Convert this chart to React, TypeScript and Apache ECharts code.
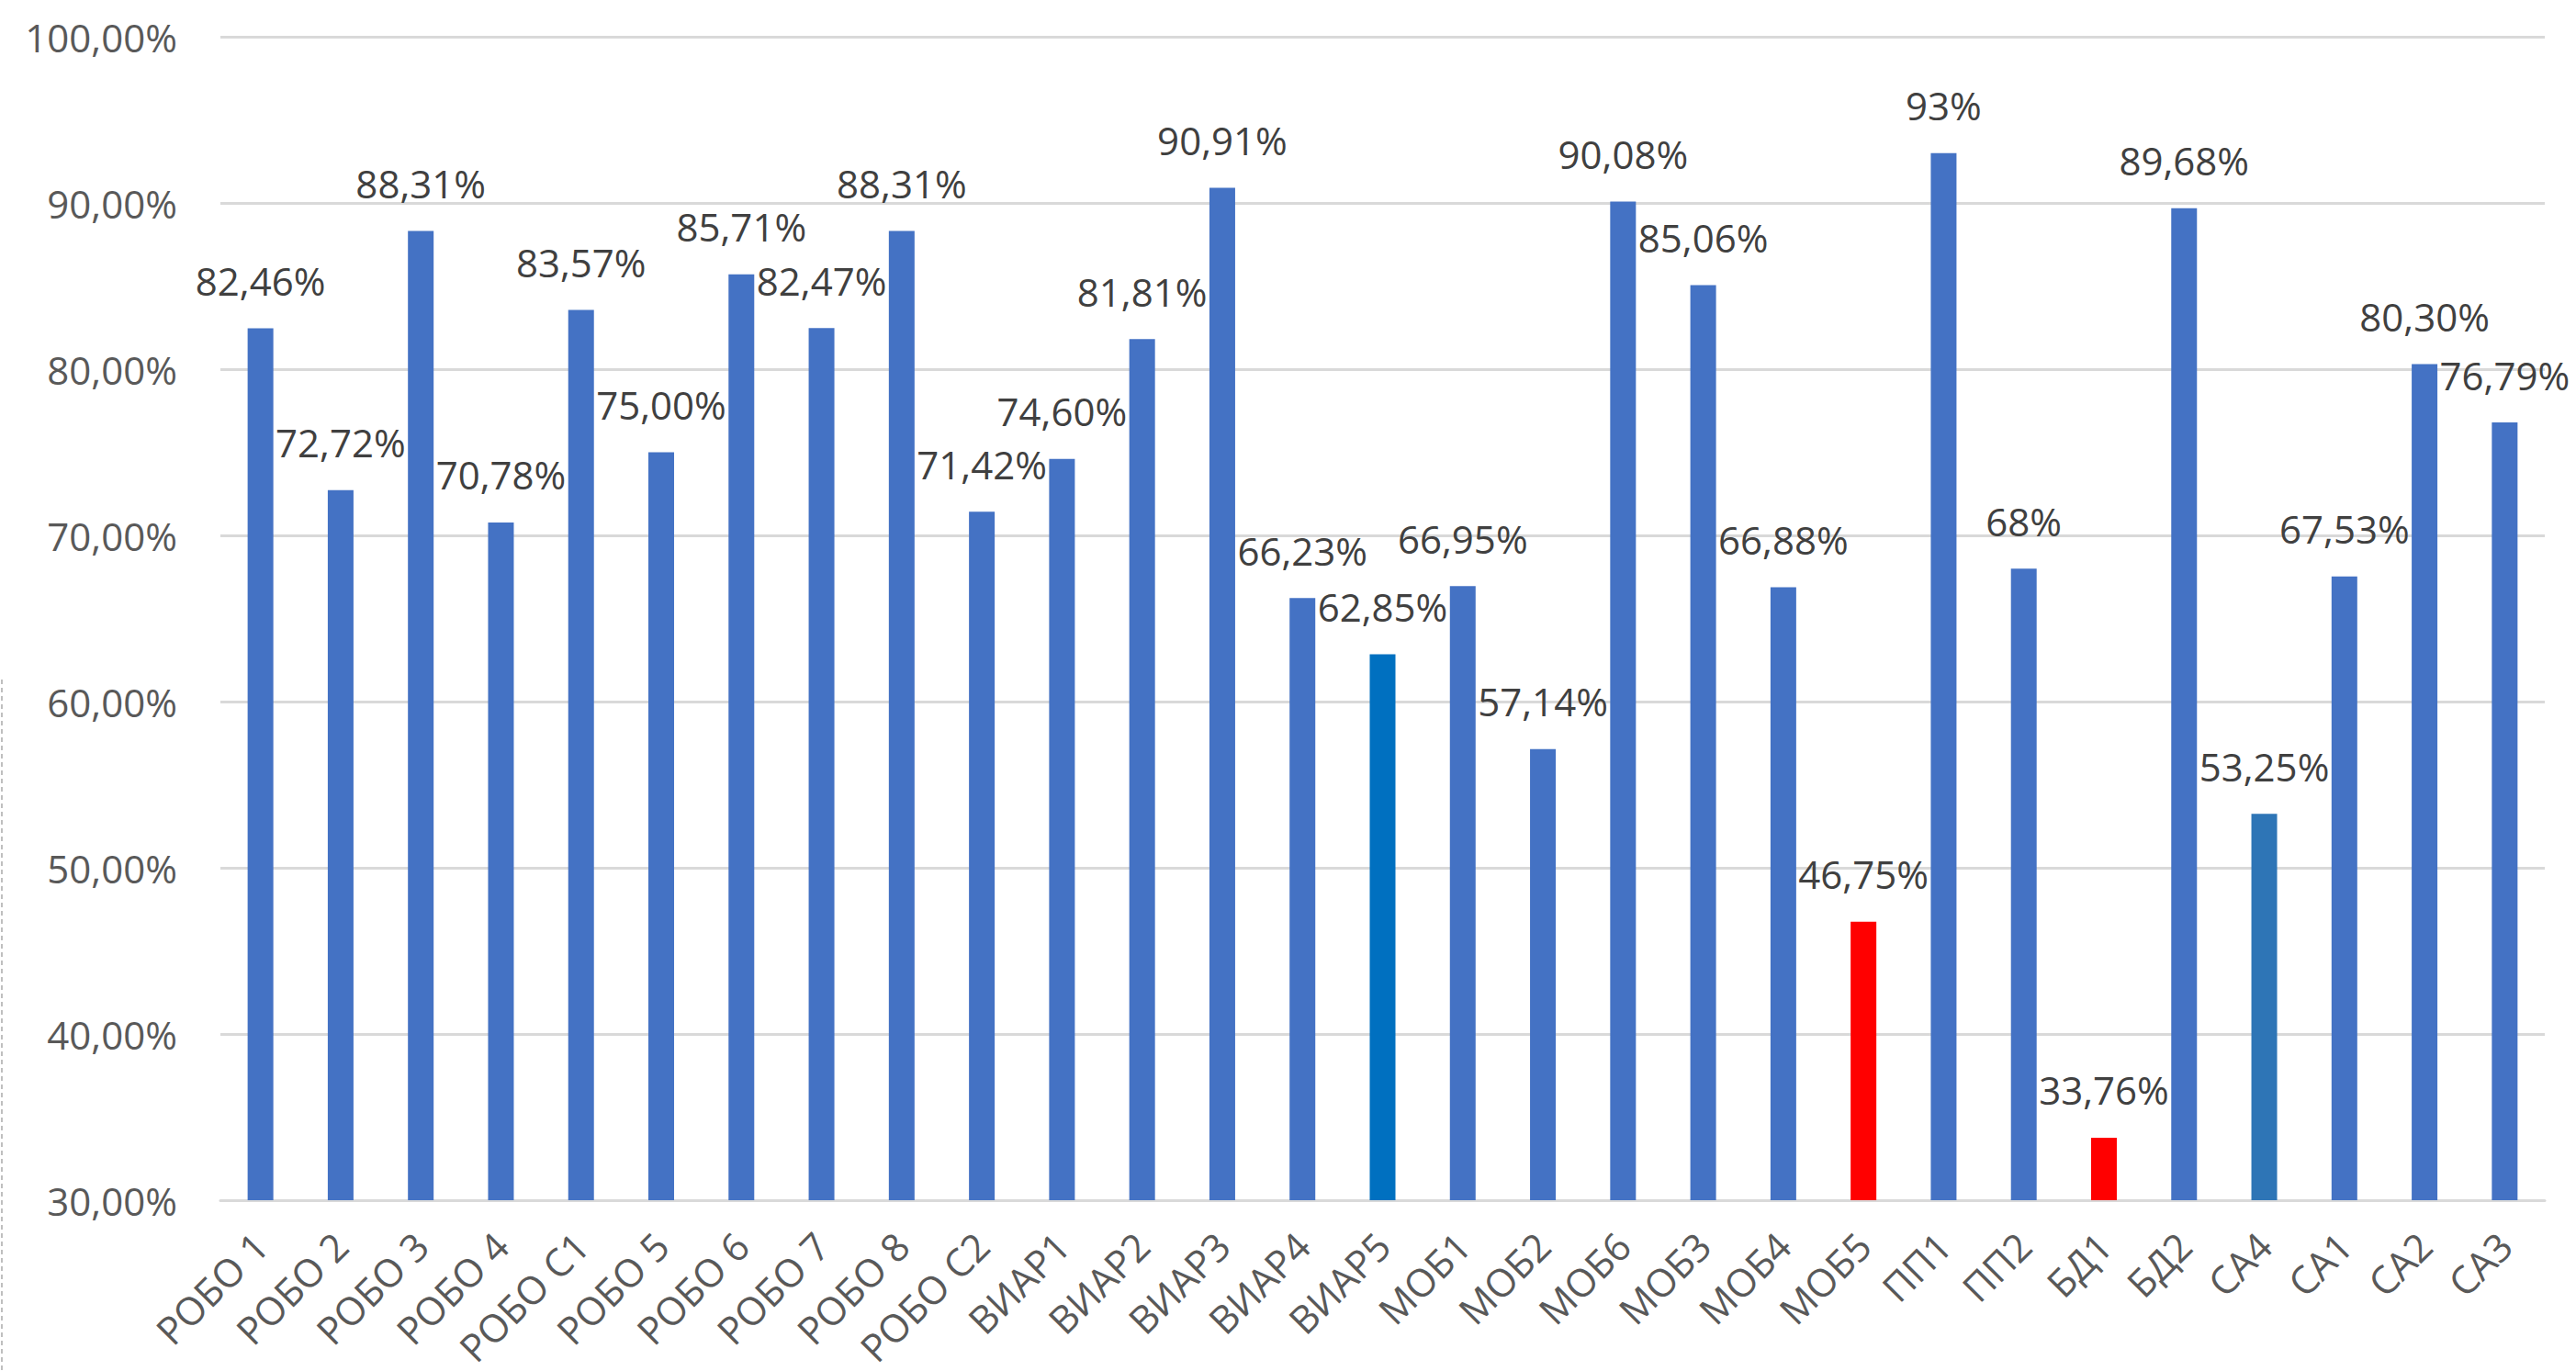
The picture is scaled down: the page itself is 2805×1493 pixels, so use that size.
import React, { useEffect, useRef } from "react";
import * as echarts from "echarts";

const categories = [
  "РОБО 1", "РОБО 2", "РОБО 3", "РОБО 4", "РОБО С1", "РОБО 5", "РОБО 6", "РОБО 7", "РОБО 8", "РОБО С2",
  "ВИАР1", "ВИАР2", "ВИАР3", "ВИАР4", "ВИАР5", "МОБ1", "МОБ2", "МОБ6", "МОБ3", "МОБ4", "МОБ5",
  "ПП1", "ПП2", "БД1", "БД2", "СА4", "СА1", "СА2", "СА3",
];
const values = [
  82.46, 72.72, 88.31, 70.78, 83.57, 75.0, 85.71, 82.47, 88.31, 71.42,
  74.6, 81.81, 90.91, 66.23, 62.85, 66.95, 57.14, 90.08, 85.06, 66.88, 46.75,
  93, 68, 33.76, 89.68, 53.25, 67.53, 80.3, 76.79,
];
const valueLabels = [
  "82,46%", "72,72%", "88,31%", "70,78%", "83,57%", "75,00%", "85,71%", "82,47%", "88,31%", "71,42%",
  "74,60%", "81,81%", "90,91%", "66,23%", "62,85%", "66,95%", "57,14%", "90,08%", "85,06%", "66,88%", "46,75%",
  "93%", "68%", "33,76%", "89,68%", "53,25%", "67,53%", "80,30%", "76,79%",
];
const barColors = [
  "#4472C4", "#4472C4", "#4472C4", "#4472C4", "#4472C4", "#4472C4", "#4472C4", "#4472C4", "#4472C4", "#4472C4",
  "#4472C4", "#4472C4", "#4472C4", "#4472C4", "#0070C0", "#4472C4", "#4472C4", "#4472C4", "#4472C4", "#4472C4", "#FF0000",
  "#4472C4", "#4472C4", "#FF0000", "#4472C4", "#2E75B6", "#4472C4", "#4472C4", "#4472C4",
];
const yMin = 30;
const yMax = 100;
const yStep = 10;

export default function App() {
  const ref = useRef<HTMLDivElement>(null);
  useEffect(() => {
    if (!ref.current) return;
    const chart = echarts.init(ref.current, null, { renderer: "svg" });
    const font = "'Open Sans', 'Noto Sans', sans-serif";
    chart.setOption({
      animation: false,
      backgroundColor: "#ffffff",
      grid: { left: 240, right: 34, top: 40, bottom: 186, containLabel: false },
      xAxis: {
        type: "category",
        data: categories,
        axisLine: { show: true, lineStyle: { color: "#D9D9D9", width: 3 } },
        axisTick: { show: false },
        axisLabel: {
          rotate: 45,
          interval: 0,
          margin: 42,
          color: "#595959",
          fontSize: 42,
          fontFamily: font,
        },
      },
      yAxis: {
        type: "value",
        min: yMin,
        max: yMax,
        interval: yStep,
        axisLine: { show: false },
        axisTick: { show: false },
        splitLine: { lineStyle: { color: "#D9D9D9", width: 3 } },
        axisLabel: {
          margin: 47,
          color: "#595959",
          fontSize: 42,
          fontFamily: font,
          formatter: (v: number) => v.toFixed(2).replace(".", ",") + "%",
        },
      },
      series: [
        {
          type: "bar",
          barWidth: 28,
          data: values.map((v, i) => ({ value: v, itemStyle: { color: barColors[i] } })),
          label: {
            show: true,
            position: "top",
            distance: 31,
            color: "#404040",
            fontSize: 42,
            fontFamily: font,
            formatter: (p: any) => valueLabels[p.dataIndex],
          },
        },
      ],
      graphic: [
        {
          type: "line",
          shape: { x1: 2, y1: 740, x2: 2, y2: 1493 },
          style: { stroke: "#BFBFBF", lineWidth: 2, lineDash: [5, 4] },
        },
      ],
    });
    return () => chart.dispose();
  }, []);
  return (
    <div
      ref={ref}
      style={{ position: "fixed", left: 0, top: 0, width: 2805, height: 1493, background: "#fff" }}
    />
  );
}
